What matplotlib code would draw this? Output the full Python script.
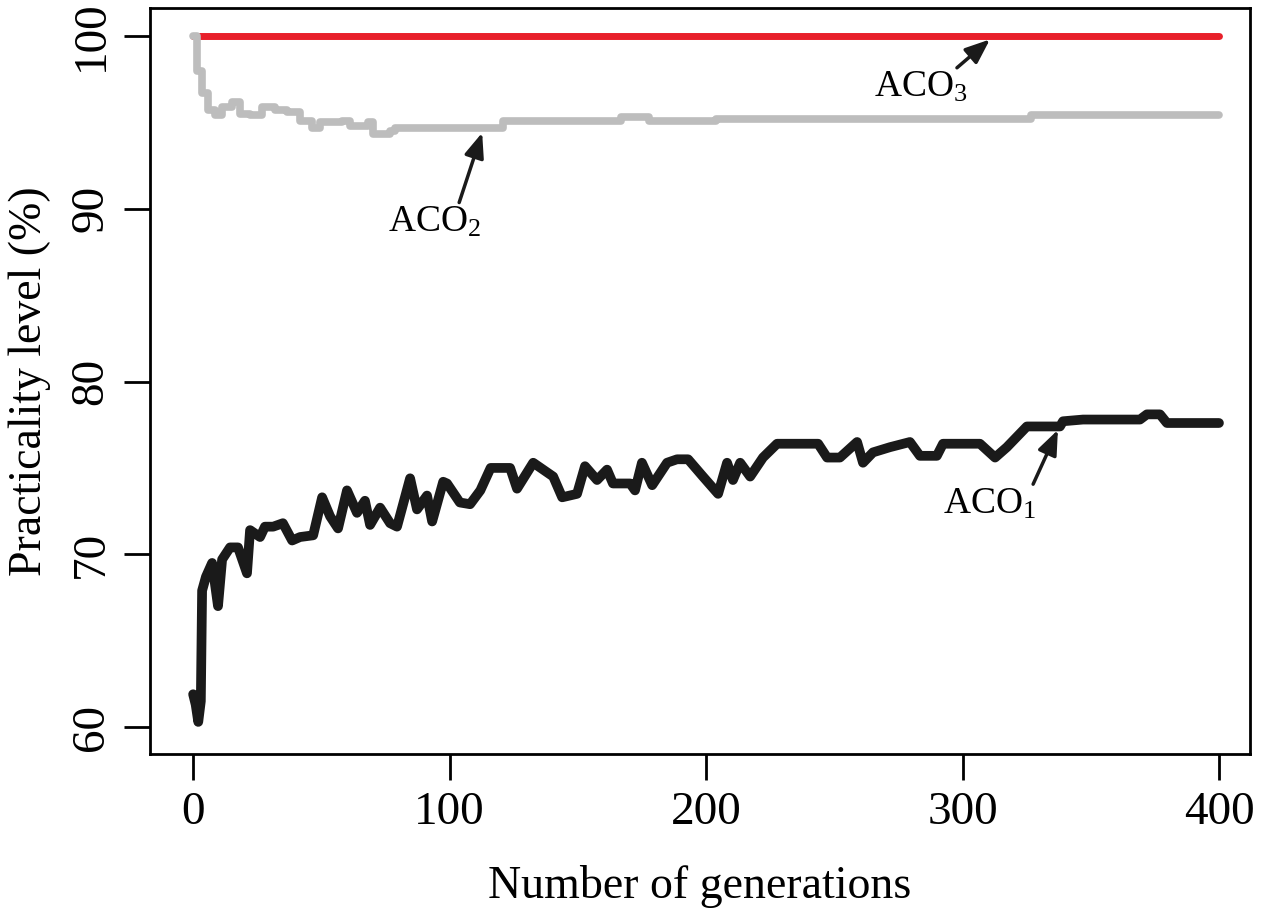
import numpy as np
import matplotlib
matplotlib.use("Agg")
import matplotlib.pyplot as plt

plt.rcParams['font.family'] = ['Liberation Serif', 'DejaVu Serif']
plt.rcParams['mathtext.fontset'] = 'custom'
plt.rcParams['mathtext.rm'] = 'Liberation Serif'
plt.rcParams['mathtext.it'] = 'Liberation Serif'

# ACO1 (black)
aco1_x = [0, 1, 2, 3, 3.5, 5, 7.4, 9.7, 11.3, 14.4, 17.5, 21, 22.2, 26.1, 28,
          31.2, 35, 38.6, 41.7, 46.8, 50.3, 53.4, 56.5, 60, 63.9, 67, 69, 72.9,
          76.8, 79.5, 84.6, 87.3, 91.2, 93.2, 97.5, 99, 104, 108, 112, 116,
          123.6, 126.3, 132.6, 140.4, 143.9, 149.7, 152.8, 157.5, 161.4, 163.7,
          170.4, 172.3, 175, 179, 184.8, 188.7, 193, 198.8, 204.7, 208.2, 210.5,
          213.3, 217.2, 222.2, 227.7, 243.7, 247.2, 252.2, 258.9, 261.2, 265.1,
          271.7, 279.5, 283.4, 290, 292.4, 306.8, 312.7, 317.3, 325.1, 338,
          339.2, 347, 369.2, 371.9, 377, 379.7, 400]
aco1_y = [61.9, 61.3, 60.3, 61.5, 67.9, 68.7, 69.5, 67.0, 69.7, 70.4, 70.4, 68.9,
          71.4, 71.0, 71.6, 71.6, 71.8, 70.8, 71.0, 71.1, 73.3, 72.2, 71.5, 73.7,
          72.4, 73.1, 71.7, 72.7, 71.8, 71.6, 74.4, 72.6, 73.4, 71.9, 74.2, 74.1,
          73.0, 72.9, 73.7, 75.0, 75.0, 73.8, 75.3, 74.5, 73.3, 73.5, 75.1, 74.3,
          74.9, 74.1, 74.1, 73.7, 75.3, 74.0, 75.3, 75.5, 75.5, 74.5, 73.5, 75.3,
          74.3, 75.3, 74.5, 75.6, 76.4, 76.4, 75.6, 75.6, 76.5, 75.3, 75.9, 76.2,
          76.5, 75.7, 75.7, 76.4, 76.4, 75.6, 76.2, 77.4, 77.4, 77.7, 77.8, 77.8,
          78.1, 78.1, 77.6, 77.6]

# ACO2 (gray)
aco2_x = [0, 1.5, 3.4, 5.8, 8.6, 11.3, 15.2, 18.3, 22.2, 26.9, 32, 36.6, 41.7,
          46.4, 49.5, 58.1, 61.2, 68.2, 70.2, 76.8, 78.8, 121, 166.9, 177.8,
          203.9, 326.7, 400]
aco2_y = [100, 98.0, 96.7, 95.7, 95.4, 95.9, 96.2, 95.5, 95.4, 95.9, 95.7, 95.6,
          95.1, 94.7, 95.0, 95.1, 94.8, 95.0, 94.3, 94.5, 94.7, 95.1, 95.3, 95.1,
          95.2, 95.4, 95.4]

# ACO3 (red)
aco3_x = [0, 400]
aco3_y = [100, 100]

fig = plt.figure(figsize=(12.63, 9.19), dpi=100)
ax = fig.add_axes([0.1188, 0.1795, 0.8709, 0.8118])

ax.plot(aco3_x, aco3_y, color='#e8202a', lw=5, solid_capstyle='round')
ax.plot(aco2_x, aco2_y, color='#bdbdbd', lw=5.5, drawstyle='steps-post',
        solid_joinstyle='round', solid_capstyle='round')
ax.plot(aco1_x, aco1_y, color='#1a1a1a', lw=7, solid_joinstyle='round',
        solid_capstyle='round')

ax.set_xlim(-16.8, 412.1)
ax.set_ylim(58.44, 101.62)
ax.set_xticks([0, 100, 200, 300, 400])
ax.set_yticks([60, 70, 80, 90, 100])
ax.tick_params(direction='out', length=19, width=2, labelsize=34, pad=8)
for lab in ax.get_yticklabels():
    lab.set_rotation(90)
    lab.set_va('center')
for sp in ax.spines.values():
    sp.set_linewidth(2)

ax.set_xlabel('Number of generations', fontsize=33, labelpad=22)
ax.set_ylabel('Practicality level (%)', fontsize=33, labelpad=14)

arrow = dict(arrowstyle='-|>,head_length=0.5,head_width=0.2', color='#1a1a1a',
             lw=2.5, mutation_scale=30, shrinkA=0, shrinkB=0)
ax.annotate(r'ACO$_3$', xy=(310.7, 99.8), xytext=(283.8, 97.0), fontsize=27,
            ha='center', va='center', arrowprops=dict(arrow, relpos=(0.85, 1.0)))
ax.annotate(r'ACO$_2$', xy=(112.7, 94.4), xytext=(94.3, 89.2), fontsize=27,
            ha='center', va='center', arrowprops=dict(arrow, relpos=(0.75, 1.0)))
ax.annotate(r'ACO$_1$', xy=(337.2, 77.2), xytext=(310.7, 72.9), fontsize=27,
            ha='center', va='center', arrowprops=dict(arrow, relpos=(0.95, 1.0)))

fig.savefig('out.png', dpi=100)
